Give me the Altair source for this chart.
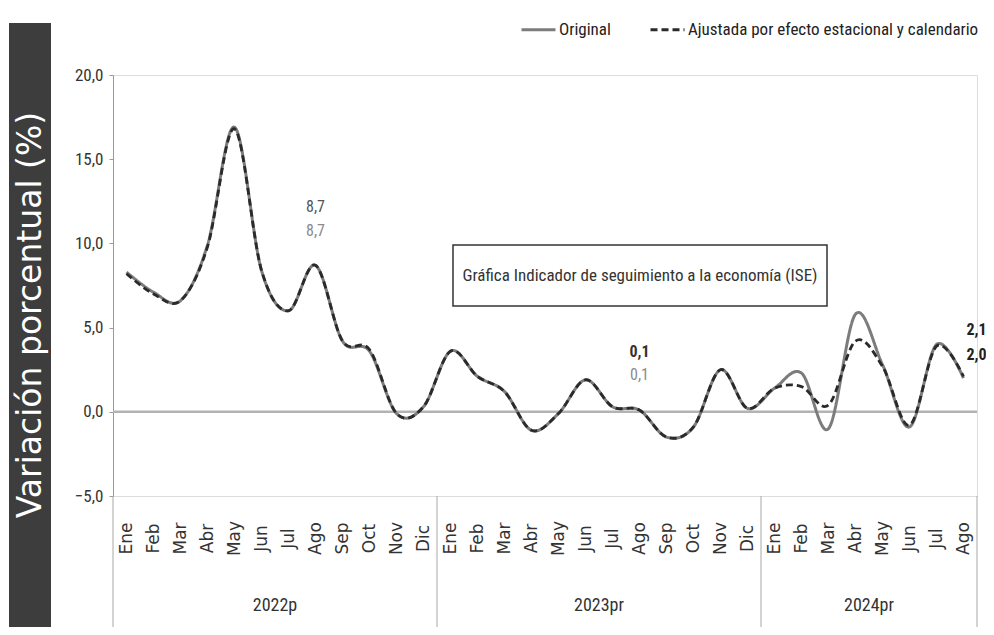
import altair as alt
import pandas as pd

# ---------------- data ----------------
months = ["Ene", "Feb", "Mar", "Abr", "May", "Jun", "Jul", "Ago", "Sep", "Oct", "Nov", "Dic"]
years = ["2022p", "2023pr", "2024pr"]
months_per_year = [12, 12, 8]

original = [8.3, 7.1, 6.6, 9.9, 16.9, 8.4, 6.0, 8.7, 4.2, 3.6, -0.1, 0.3,
            3.6, 2.1, 1.2, -1.1, -0.1, 1.9, 0.3, 0.1, -1.5, -0.9, 2.5, 0.2,
            1.4, 2.3, -1.0, 5.8, 2.8, -0.9, 4.0, 2.0]
ajustada = [8.2, 7.0, 6.6, 9.8, 16.8, 8.4, 6.0, 8.7, 4.2, 3.7, -0.1, 0.3,
            3.6, 2.1, 1.2, -1.1, -0.1, 1.9, 0.3, 0.1, -1.5, -0.9, 2.5, 0.2,
            1.4, 1.5, 0.4, 4.2, 2.7, -0.8, 3.9, 2.1]

series_names = ["Original", "Ajustada por efecto estacional y calendario"]
series_colors = ["#7c7c7c", "#2a2a2a"]
series_dash = [[1, 0], [7, 4]]

# annotations: (month index, anchor value, text, colour, weight, dy, dx, align)
ann_idx = [7, 7, 19, 19, 31, 31]
ann_val = [8.7, 8.7, 0.1, 0.1, 2.0, 2.0]
ann_txt = ["8,7", "8,7", "0,1", "0,1", "2,1", "2,0"]
ann_col = ["#555555", "#8a8a8a", "#333333", "#8a8a8a", "#222222", "#222222"]
ann_wt = ["normal", "normal", "bold", "normal", "bold", "bold"]
ann_dy = [-58, -34, -58, -35, -48, -23]
ann_dx = [0, 0, 0, 0, 3, 3]
ann_al = ["center", "center", "center", "center", "left", "left"]

title_text = "Gráfica Indicador de seguimiento a la economía (ISE)"
ytitle_text = "Variación porcentual (%)"

NARROW = "Liberation Sans Narrow, Arial Narrow, Roboto Condensed, Liberation Sans, sans-serif"
WIDE = "Verdana, DejaVu Sans, sans-serif"

W, H = 864, 421
n = len(original)

rows = []
for i in range(n):
    rows.append({"idx": i, "valor": original[i], "serie": series_names[0]})
for i in range(n):
    rows.append({"idx": i, "valor": ajustada[i], "serie": series_names[1]})
df = pd.DataFrame(rows)

# year centres and separators
starts = []
s = 0
for m in months_per_year:
    starts.append(s)
    s += m
year_df = pd.DataFrame({
    "year": years,
    "center": [st + (m - 1) / 2 for st, m in zip(starts, months_per_year)],
})
sep_df = pd.DataFrame({"pos": [st - 0.5 for st in starts] + [n - 0.5]})

xscale = alt.Scale(domain=[-0.5, n - 0.5], nice=False, zero=False)
yscale = alt.Scale(domain=[-5, 20], nice=False, zero=False)

month_expr = "[" + ",".join("'%s'" % m for m in months) + "][datum.value % 12]"

x_axis = alt.Axis(values=list(range(n)), labelExpr=month_expr, labelAngle=270,
                  labelAlign="center", labelBaseline="middle", labelPadding=42,
                  domain=False, ticks=False, tickSize=0, grid=False, title=None,
                  labelFont=WIDE, labelFontSize=17, labelColor="#333333",
                  labelOverlap=False, labelFlush=False)
y_axis = alt.Axis(values=[-5, 0, 5, 10, 15, 20], grid=False, title=None,
                  labelExpr="replace(format(datum.value, '.1f'), '.', ',')",
                  domainColor="#9a9a9a", tickColor="#9a9a9a", tickSize=4,
                  labelFont=NARROW, labelFontSize=17, labelColor="#333333", labelPadding=6)

legend = alt.Legend(orient="none", legendX=407, legendY=-64, direction="horizontal",
                    title=None, symbolType="stroke", symbolSize=1156, symbolStrokeWidth=3,
                    labelFont=NARROW, labelFontSize=17, labelColor="#222222", labelLimit=0,
                    columnPadding=33, padding=0, labelOffset=2)

color_enc = alt.Color("serie:N", scale=alt.Scale(domain=series_names, range=series_colors),
                      legend=legend, sort=series_names)
dash_enc = alt.StrokeDash("serie:N", scale=alt.Scale(domain=series_names, range=series_dash),
                          legend=legend, sort=series_names)

base = alt.Chart(df)

zero_rule = alt.Chart(pd.DataFrame({"z": [0]})).mark_rule(color="#b3b3b3", strokeWidth=2.5).encode(
    y=alt.Y("z:Q", scale=yscale, axis=y_axis)
)

line_orig = base.transform_filter(alt.datum.serie == series_names[0]).mark_line(
    interpolate="cardinal", strokeWidth=3
).encode(
    x=alt.X("idx:Q", scale=xscale, axis=x_axis),
    y=alt.Y("valor:Q", scale=yscale, axis=y_axis),
    color=color_enc, strokeDash=dash_enc,
)
line_adj = base.transform_filter(alt.datum.serie == series_names[1]).mark_line(
    interpolate="cardinal", strokeWidth=2.8
).encode(
    x=alt.X("idx:Q", scale=xscale, axis=x_axis),
    y=alt.Y("valor:Q", scale=yscale, axis=y_axis),
    color=color_enc, strokeDash=dash_enc,
)

seps = alt.Chart(sep_df).mark_rule(color="#a8a8a8", strokeWidth=1).encode(
    x=alt.X("pos:Q", scale=xscale, axis=x_axis),
    y=alt.value(H), y2=alt.value(H + 132),
)

year_text = alt.Chart(year_df).mark_text(font=NARROW, fontSize=18, color="#333333",
                                         baseline="middle").encode(
    x=alt.X("center:Q", scale=xscale, axis=x_axis),
    y=alt.value(H + 110),
    text="year:N",
)

ann_layers = []
for i in range(len(ann_txt)):
    d = pd.DataFrame({"idx": [ann_idx[i]], "v": [ann_val[i]], "t": [ann_txt[i]]})
    ann_layers.append(
        alt.Chart(d).mark_text(font=NARROW, fontSize=16, color=ann_col[i], fontWeight=ann_wt[i],
                               dy=ann_dy[i], dx=ann_dx[i], align=ann_al[i],
                               baseline="middle").encode(
            x=alt.X("idx:Q", scale=xscale, axis=x_axis),
            y=alt.Y("v:Q", scale=yscale, axis=y_axis),
            text="t:N",
        )
    )

one = pd.DataFrame({"t": [title_text]})
title_box = alt.Chart(one).mark_rect(fill="white", stroke="#333333", strokeWidth=1.5).encode(
    x=alt.value(340), x2=alt.value(714), y=alt.value(170), y2=alt.value(231)
)
title_txt = alt.Chart(one).mark_text(font=NARROW, fontSize=17, color="#333333",
                                     baseline="middle", align="center").encode(
    x=alt.value(527), y=alt.value(201), text="t:N"
)

yt = pd.DataFrame({"t": [ytitle_text]})
ytitle_box = alt.Chart(yt).mark_rect(fill="#3d3d3d").encode(
    x=alt.value(-104), x2=alt.value(-62), y=alt.value(-52), y2=alt.value(H + 132)
)
ytitle_txt = alt.Chart(yt).mark_text(font=WIDE, fontSize=33, color="white", angle=270,
                                     baseline="middle", align="center").encode(
    x=alt.value(-82), y=alt.value(240), text="t:N"
)

chart = alt.layer(
    ytitle_box, ytitle_txt, zero_rule, seps, year_text, line_orig, line_adj,
    *ann_layers, title_box, title_txt
).properties(
    width=W, height=H,
    autosize=alt.AutoSizeParams(type="none"),
    padding={"left": 105, "top": 67, "right": 9, "bottom": 131},
).configure_view(stroke=None).configure(background="white")

chart.save("out.html", embed_options={"renderer": "svg", "actions": False})
